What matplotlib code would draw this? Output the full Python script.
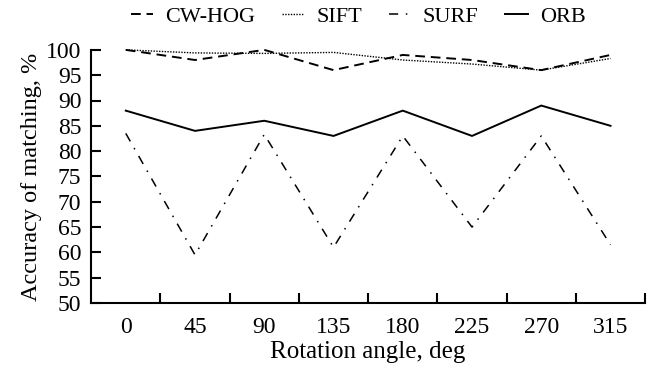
import matplotlib.pyplot as plt

# Données
angles = ['0', '45', '90', '135', '180', '225', '270', '315']
cw_hog = [100, 98, 100, 96, 99, 98, 96, 99]
sift = [100, 99.4, 99.3, 99.5, 98, 97.2, 96, 98.3]
surf = [83.5, 59.5, 83.3, 61, 83, 65, 83, 61.5]
orb = [88, 84, 86, 83, 88, 83, 89, 85]

plt.rcParams['font.family'] = 'Liberation Serif'
plt.rcParams['font.size'] = 17

fig = plt.figure(figsize=(6.51, 3.75), dpi=100)
ax = fig.add_axes([0.14, 0.192, 0.851, 0.675])

x = range(len(angles))
lw = 1.4
ax.plot(x, cw_hog, color='black', lw=lw, linestyle=(0, (5, 3)), label='CW-HOG', clip_on=False)
ax.plot(x, sift, color='black', lw=1.0, linestyle=(0, (1, 1)), label='SIFT', clip_on=False)
ax.plot(x, surf, color='black', lw=1.1, linestyle=(0, (6, 5, 1, 5)), label='SURF', clip_on=False)
ax.plot(x, orb, color='black', lw=lw, label='ORB', clip_on=False)

ax.set_xlim(-0.5, len(angles) - 0.5)
ax.set_ylim(50, 100)
ax.set_yticks(range(50, 101, 5))
ax.set_xticks(list(x))
ax.set_xticklabels(angles)
ax.set_xticks([i + 0.5 for i in x], minor=True)
ax.tick_params(axis='x', which='major', length=0, pad=10, labelsize=17)
ax.tick_params(axis='x', which='minor', direction='in', length=7, width=1.5)
ax.tick_params(axis='y', direction='in', length=7, width=1.5, pad=7, labelsize=17)

for s in ['top', 'right']:
    ax.spines[s].set_visible(False)
for s in ['left', 'bottom']:
    ax.spines[s].set_linewidth(1.5)

ax.set_xlabel('Rotation angle, deg', labelpad=2, fontsize=18)
ax.set_ylabel('Accuracy of matching, %', labelpad=3, fontsize=17.5)

fig.legend(loc='center', bbox_to_anchor=(0.55, 0.955), ncol=4, frameon=False,
           handlelength=1.0, handletextpad=0.55, columnspacing=1.2, fontsize=16)

fig.savefig('out.png', dpi=100)
